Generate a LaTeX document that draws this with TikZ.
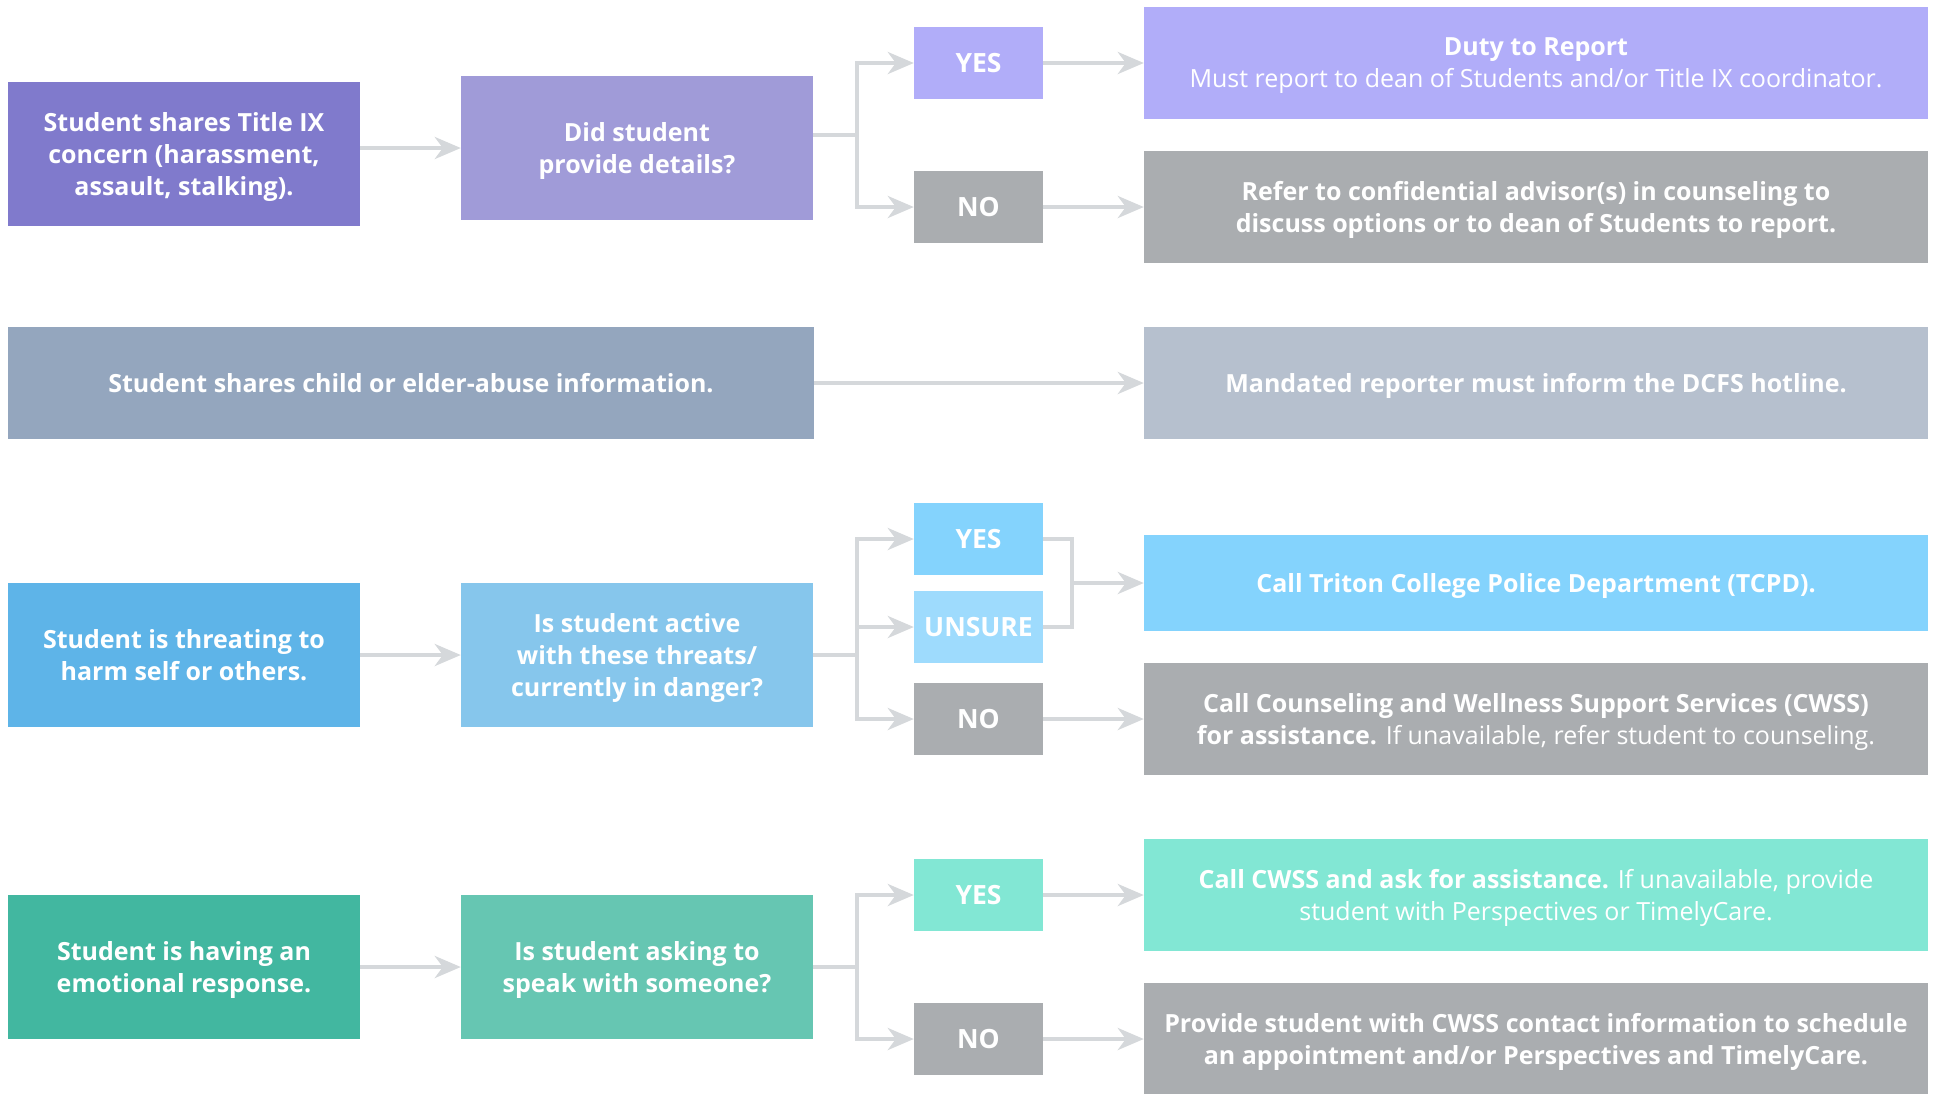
\documentclass[tikz,border=0pt]{standalone}
\usepackage{fontspec}
\setmainfont{Open Sans}
\usetikzlibrary{arrows.meta}

\definecolor{linkgray}{HTML}{D5D8DB}
\definecolor{nogray}{HTML}{AAADB0}
\definecolor{titleA}{HTML}{807ACC}
\definecolor{titleB}{HTML}{A09BD8}
\definecolor{titleC}{HTML}{B1ADF9}
\definecolor{abuseA}{HTML}{94A6BE}
\definecolor{abuseB}{HTML}{B6C0CE}
\definecolor{harmA}{HTML}{5EB4E8}
\definecolor{harmB}{HTML}{86C6EC}
\definecolor{harmC}{HTML}{84D3FD}
\definecolor{harmD}{HTML}{9EDBFD}
\definecolor{emoA}{HTML}{42B7A0}
\definecolor{emoB}{HTML}{66C6B2}
\definecolor{emoC}{HTML}{82E7D4}

\tikzset{
    box/.style={fill=#1, text=white, inner sep=0pt, align=center, text depth=0pt,
        font=\fontsize{25}{32}\selectfont\bfseries},
    side/.style={box=#1, minimum width=352, minimum height=144},
    choice/.style={box=#1, minimum width=129, minimum height=72,
        font=\fontsize{26.5}{32}\selectfont\bfseries},
    result/.style={box=#1, minimum width=784, minimum height=112},
    link/.style={draw=linkgray, line width=4pt, line join=miter},
    flow/.style={link, -{Stealth[length=26pt, width=22pt, inset=8pt]}}
}

\begin{document}
\begin{tikzpicture}[x=1pt, y=-1pt]
    \useasboundingbox (0,0) rectangle (1937,1093);

    % Title IX
    \node[side=titleA] (title) at (184,154) {Student shares Title IX\\concern (harassment,\\assault, stalking).};
    \node[side=titleB] (details) at (637,148) {Did student\\provide details?};
    \node[choice=titleC] (yesA) at (978.5,63) {YES};
    \node[choice=nogray] (noA) at (978.5,207) {NO};
    \node[result=titleC] (duty) at (1536,63) {Duty to Report\\{\mdseries Must report to dean of Students and/or Title IX coordinator.}};
    \node[result=nogray] (refer) at (1536,207) {Refer to confidential advisor(s) in counseling to\\discuss options or to dean of Students to report.};

    % Abuse
    \node[box=abuseA, minimum width=806, minimum height=112] (abuse) at (411,383) {Student shares child or elder-abuse information.};
    \node[result=abuseB] (dcfs) at (1536,383) {Mandated reporter must inform the DCFS hotline.};

    % Harm
    \node[side=harmA] (harm) at (184,655) {Student is threating to\\harm self or others.};
    \node[side=harmB] (danger) at (637,655) {Is student active\\with these threats/\\currently in danger?};
    \node[choice=harmC] (yesB) at (978.5,539) {YES};
    \node[choice=harmD] (unsure) at (978.5,627) {UNSURE};
    \node[choice=nogray] (noB) at (978.5,719) {NO};
    \node[result=harmC, minimum height=96] (tcpd) at (1536,583) {Call Triton College Police Department (TCPD).};
    \node[result=nogray] (cwss) at (1536,719) {Call Counseling and Wellness Support Services (CWSS)\\for assistance. {\mdseries If unavailable, refer student to counseling.}};

    % Emotional response
    \node[side=emoA] (emo) at (184,967) {Student is having an\\emotional response.};
    \node[side=emoB] (speak) at (637,967) {Is student asking to\\speak with someone?};
    \node[choice=emoC] (yesC) at (978.5,895) {YES};
    \node[choice=nogray] (noC) at (978.5,1039) {NO};
    \node[result=emoC] (persp) at (1536,895) {Call CWSS and ask for assistance. {\mdseries If unavailable, provide}\\{\mdseries student with Perspectives or TimelyCare.}};
    \node[result=nogray] (provide) at (1536,1039) {Provide student with CWSS contact information to schedule\\an appointment and/or Perspectives and TimelyCare.};

    % Flechas fila 1
    \coordinate (forkA) at (857,135);
    \draw[flow] (title.east |- details) -- (details);
    \draw[link] (details.east |- forkA) -- (forkA);
    \draw[flow] (forkA) |- (yesA);
    \draw[flow] (forkA) |- (noA);
    \draw[flow] (yesA) -- (duty);
    \draw[flow] (noA) -- (refer);

    % Flecha fila 2
    \draw[flow] (abuse) -- (dcfs);

    % Flechas fila 3
    \coordinate (forkB) at (857,655);
    \coordinate (joinB) at (1072,583);
    \draw[flow] (harm) -- (danger);
    \draw[link] (danger) -- (forkB);
    \draw[flow] (forkB) |- (yesB);
    \draw[flow] (forkB) |- (unsure);
    \draw[flow] (forkB) |- (noB);
    \draw[link] (yesB) -| (joinB);
    \draw[link] (unsure) -| (joinB);
    \draw[flow] (joinB) -- (tcpd);
    \draw[flow] (noB) -- (cwss);

    % Flechas fila 4
    \coordinate (forkC) at (857,967);
    \draw[flow] (emo) -- (speak);
    \draw[link] (speak) -- (forkC);
    \draw[flow] (forkC) |- (yesC);
    \draw[flow] (forkC) |- (noC);
    \draw[flow] (yesC) -- (persp);
    \draw[flow] (noC) -- (provide);
\end{tikzpicture}
\end{document}
